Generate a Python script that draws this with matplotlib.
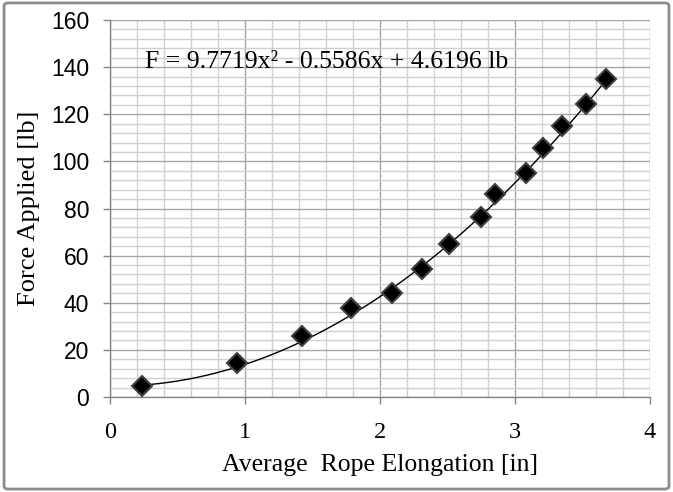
import numpy as np
import matplotlib.pyplot as plt
from matplotlib.patches import FancyBboxPatch
from matplotlib.ticker import MultipleLocator

# measured rope elongation vs applied force
elongation = [0.235, 0.943, 1.42, 1.783, 2.088, 2.313, 2.511, 2.745, 2.855, 3.079, 3.21, 3.348, 3.526, 3.674]
force = [4.7, 14.3, 25.9, 37.6, 44.3, 54.5, 64.8, 76.4, 86.0, 94.9, 105.6, 115.2, 124.2, 134.8]

# excel trendline coefficients (a*x^2 + b*x + c)
coeffs = [9.7719, -0.5586, 4.6196]
eq_text = 'F = 9.7719x² - 0.5586x + 4.6196 lb'

serif = 'Liberation Serif'
sans = 'Liberation Sans'

fig = plt.figure(figsize=(6.73, 4.92), dpi=100)
ax = fig.add_axes([110 / 673, 1 - 397 / 492, 540 / 673, 377 / 492])

# outer chart border
border = FancyBboxPatch((0.006, 0.006), 0.988, 0.988, boxstyle='round,pad=0,rounding_size=0.006',
                        transform=fig.transFigure, fill=False, edgecolor='#8c8c8c', linewidth=2.0)
fig.patches.append(border)

ax.set_xlim(0, 4)
ax.set_ylim(0, 160)
ax.xaxis.set_major_locator(MultipleLocator(1))
ax.xaxis.set_minor_locator(MultipleLocator(0.2))
ax.yaxis.set_major_locator(MultipleLocator(20))
ax.yaxis.set_minor_locator(MultipleLocator(4))

ax.grid(which='minor', color='#d0d0d0', linewidth=1.0)
ax.grid(which='major', color='#a6a6a6', linewidth=1.0)
ax.set_axisbelow(True)

for s in ['top', 'right']:
    ax.spines[s].set_visible(False)
for s in ['left', 'bottom']:
    ax.spines[s].set_color('#868686')
    ax.spines[s].set_linewidth(1.0)

ax.tick_params(which='major', direction='out', length=5, color='#868686', width=1.0)
ax.tick_params(which='minor', length=0)
ax.tick_params(axis='y', labelsize=16.5, pad=10)
ax.tick_params(axis='x', labelsize=17.5, pad=13)
for lab in ax.get_yticklabels():
    lab.set_fontfamily(sans)
for lab in ax.get_xticklabels():
    lab.set_fontfamily(serif)

# trendline
xs = np.linspace(min(elongation), max(elongation), 200)
ax.plot(xs, np.polyval(coeffs, xs), color='black', linewidth=1.0, zorder=3)

ax.plot(elongation, force, linestyle='none', marker='D', markersize=10.5,
        markerfacecolor='black', markeredgecolor='#404040', markeredgewidth=1.5, zorder=4)

ax.text(0.26, 142, eq_text, fontsize=18.5, fontfamily=serif, va='center', ha='left')

ax.set_xlabel('Average  Rope Elongation [in]', fontsize=18.5, fontfamily=serif, labelpad=8)
ax.set_ylabel('Force Applied [lb]', fontsize=19, fontfamily=serif, labelpad=8)

fig.savefig('out.png', dpi=100)
